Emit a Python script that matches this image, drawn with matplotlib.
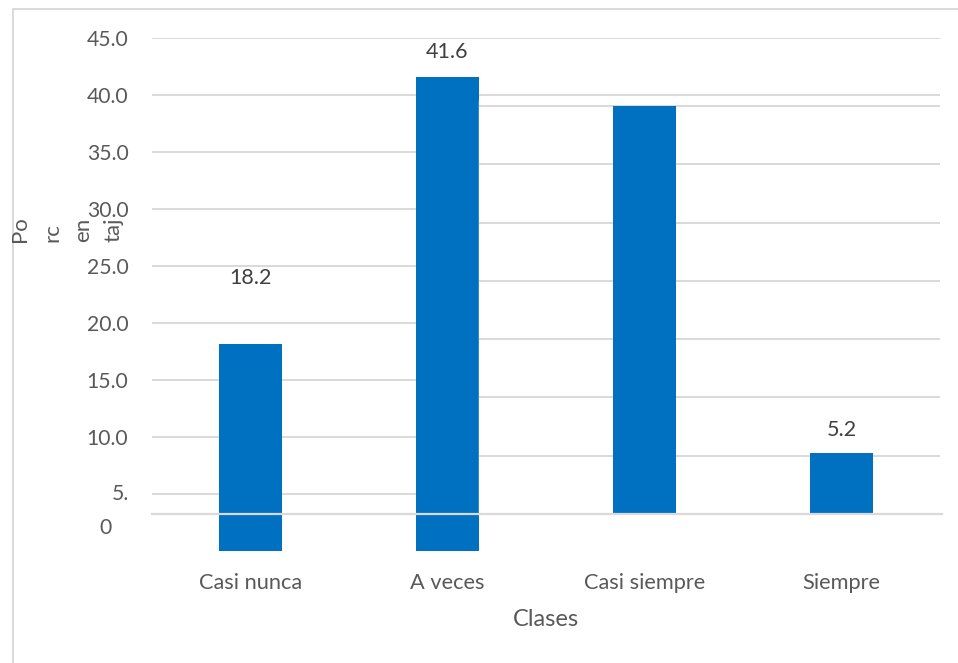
import matplotlib.pyplot as plt
from matplotlib.lines import Line2D
from matplotlib.patches import Rectangle

# data
clases = ["Casi nunca", "A veces", "Casi siempre", "Siempre"]
porcentaje = [18.2, 41.6, 35.0, 5.2]
etiquetas = ["18.2", "41.6", "", "5.2"]   # the "Casi siempre" label is not shown
yticks_izq = [5, 10, 15, 20, 25, 30, 35, 40, 45]
yticks_der = [5, 10, 15, 20, 25, 30, 35]

W, H = 958, 663
azul = "#0070C0"
gris = "#d9d9d9"
texto = "#595959"
plt.rcParams['font.family'] = ['Lato', 'DejaVu Sans']

fig = plt.figure(figsize=(W / 100, H / 100), dpi=100)

def fx(px):
    return px / W

def fy(py):
    return 1 - py / H

x = list(range(len(clases)))
ancho = 0.315

# ---- first layer: left half of the chart (0 at y=551) ----
ax1 = fig.add_axes([fx(152), fy(551), fx(940) - fx(152), fy(38) - fy(551)])
ax1.set_xlim(-0.5, 3.5)
ax1.set_ylim(0, 45)
for v in yticks_izq:
    ax1.axhline(v, color=gris, lw=1.4, zorder=0)
ax1.bar(x[:2], porcentaje[:2], width=ancho, color=azul, zorder=2)
ax1.set_yticks(yticks_izq)
ax1.set_yticklabels(["" if v == 5 else f"{v:.1f}" for v in yticks_izq],
                    fontsize=15.2, color=texto)
ax1.tick_params(axis='y', length=0, pad=17)
ax1.set_xticks(x)
ax1.set_xticklabels(clases, fontsize=15.7, color=texto)
ax1.tick_params(axis='x', length=0, pad=16)
ax1.set_xlabel("Clases", fontsize=17, color=texto, labelpad=11)
for s in ax1.spines.values():
    s.set_visible(False)

# the wrapped "5.0" tick label
fig.text(fx(129), fy(494), "5.", ha='right', va='center', fontsize=15.2, color=texto)
fig.text(fx(105), fy(528), "0", ha='center', va='center', fontsize=15.2, color=texto)

for xi, val, lab, off in zip(x[:2], porcentaje[:2], etiquetas[:2], [47.5, 18]):
    ax1.annotate(lab, (xi, val), xytext=(0, off), textcoords='offset points',
                 ha='center', va='center', fontsize=15.5, color="#404040")

# ---- second layer: right half, drawn over the first (0 at y=514) ----
esc = 11.66
ax2 = fig.add_axes([fx(152), fy(551), fx(940) - fx(152), fy(100) - fy(551)])
ax2.set_xlim(-0.5, 3.5)
ax2.set_ylim(-(551 - 514) / esc, (514 - 100) / esc)
ax2.patch.set_visible(False)
x0 = 1 + ancho / 2
ax2.add_patch(Rectangle((x0, 0), 3.5 - x0, (514 - 100) / esc, color="white", zorder=0))
ax2.hlines(yticks_der, x0, 3.51, color=gris, lw=1.4, zorder=1)
ax2.bar(x[2:], porcentaje[2:], width=ancho, color=azul, zorder=2)
ax2.axhline(0, xmin=0, xmax=1.003, color=gris, lw=1.6, zorder=3, clip_on=False)
for xi, val, lab in zip(x[2:], porcentaje[2:], etiquetas[2:]):
    if lab:
        ax2.annotate(lab, (xi, val), xytext=(0, 17), textcoords='offset points',
                     ha='center', va='center', fontsize=15.5, color="#404040")
ax2.set_xticks([])
ax2.set_yticks([])
for s in ax2.spines.values():
    s.set_visible(False)

# y-axis title, wrapped into short pieces
for xp, parte in zip([20, 52, 83, 113], ["Po", "rc", "en", "taj"]):
    fig.text(fx(xp), fy(242), parte, rotation=90, ha='center', va='bottom',
             fontsize=16, color=texto)

# chart area border (only top and left visible)
fig.add_artist(Line2D([fx(13), fx(13), fx(958)], [fy(663), fy(9), fy(9)],
                      color=gris, lw=1.4))

fig.savefig("out.png", dpi=100)
